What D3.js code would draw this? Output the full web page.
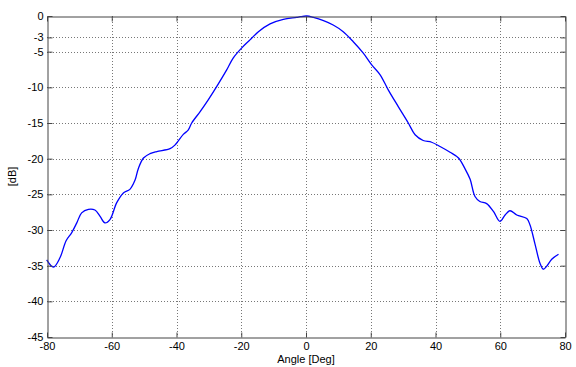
<!DOCTYPE html>
<html lang="en">
<head>
<meta charset="UTF-8">
<title>Beam pattern</title>
<script src="https://cdn.jsdelivr.net/npm/d3@7/dist/d3.min.js"></script>
<style>
    body { margin: 0; background: #fff; }
    text { font-family: "Liberation Sans", Arial, sans-serif; font-size: 11px; fill: #000; }
</style>
</head>
<body>
<svg id="chart" width="576" height="367"></svg>
<script>
    // data
    let angles = [-80.1, -78.0, -76.0, -74.1, -72.4, -70.8, -69.3, -67.2, -65.2, -63.6, -62.1, -60.5,
        -58.5, -56.4, -54.4, -52.8, -51.8, -50.2, -48.2, -46.1, -42.0, -40.5, -37.9, -36.4, -35.3,
        -32.7, -30.2, -27.6, -24.5, -22.5, -19.9, -17.3, -14.7, -11.1, -7.0, -2.9, -1.8, 0.2, 2.3,
        5.4, 8.4, 11.5, 14.6, 17.7, 20.3, 22.9, 25.4, 28.5, 31.6, 33.7, 36.2, 38.8, 41.4, 44.5,
        47.1, 49.1, 50.7, 52.2, 53.7, 55.8, 57.9, 59.9, 61.5, 63.0, 65.1, 68.2, 69.2, 70.7, 72.3,
        73.3, 74.3, 75.9, 78.0];
    let gain = [-34.2, -35.2, -33.9, -31.5, -30.4, -29.0, -27.6, -27.1, -27.2, -28.1, -29.0, -28.5,
        -26.2, -24.8, -24.3, -23.0, -21.4, -19.9, -19.3, -19.0, -18.6, -18.1, -16.6, -16.0, -15.0,
        -13.4, -11.75, -9.9, -7.55, -5.9, -4.5, -3.35, -2.2, -1.1, -0.47, -0.2, -0.1, 0.0, -0.2,
        -0.65, -1.26, -2.2, -3.6, -5.2, -6.85, -8.25, -10.35, -12.7, -15.0, -16.65, -17.45, -17.7,
        -18.3, -19.1, -19.9, -21.4, -22.9, -25.3, -26.0, -26.3, -27.4, -28.8, -27.9, -27.3, -27.9,
        -28.4, -29.3, -31.9, -34.7, -35.5, -35.1, -34.1, -33.4];
    let xTicks = [-80, -60, -40, -20, 0, 20, 40, 60, 80];
    let yTicks = [0, -3, -5, -10, -15, -20, -25, -30, -35, -40, -45];

    let svg = d3.select('svg#chart');
    let box = {left: 47, right: 565, top: 16, bottom: 337};

    let xScale = d3.scaleLinear().domain([-80, 80]).range([box.left, box.right]);
    let yScale = d3.scaleLinear().domain([-45, 0]).range([box.bottom, box.top]);

    // grid
    let grid = svg.append('g').attr('stroke', '#777').attr('stroke-dasharray', '1,2').attr('stroke-width', 1);
    grid.selectAll('line.gx')
        .data(xTicks.slice(1, -1))
        .enter()
        .append('line')
        .attr('x1', function(d){return Math.round(xScale(d)) + 0.5;})
        .attr('x2', function(d){return Math.round(xScale(d)) + 0.5;})
        .attr('y1', box.top)
        .attr('y2', box.bottom);
    grid.selectAll('line.gy')
        .data(yTicks.slice(1, -1))
        .enter()
        .append('line')
        .attr('y1', function(d){return Math.round(yScale(d)) + 0.5;})
        .attr('y2', function(d){return Math.round(yScale(d)) + 0.5;})
        .attr('x1', box.left)
        .attr('x2', box.right);

    // the curve
    let line = d3.line()
        .x(function(d, i){return xScale(angles[i]);})
        .y(function(d){return yScale(d);})
        .curve(d3.curveCatmullRom);
    svg.append('path')
        .datum(gain)
        .attr('d', line)
        .attr('fill', 'none')
        .attr('stroke', '#0000ff')
        .attr('stroke-width', 1.3);

    // axes, ticks inside on all four sides
    let axisColor = '#444';
    let bottomAxis = svg.append('g')
        .attr('transform', 'translate(0,' + (box.bottom + 0.5) + ')')
        .call(d3.axisBottom(xScale).tickValues(xTicks).tickSizeInner(-5).tickSizeOuter(0).tickPadding(5));
    let topAxis = svg.append('g')
        .attr('transform', 'translate(0,' + (box.top + 0.5) + ')')
        .call(d3.axisTop(xScale).tickValues(xTicks).tickSizeInner(-5).tickSizeOuter(0).tickFormat(''));
    let leftAxis = svg.append('g')
        .attr('transform', 'translate(' + (box.left + 0.5) + ',0)')
        .call(d3.axisLeft(yScale).tickValues(yTicks).tickSizeInner(-5).tickSizeOuter(0).tickPadding(9));
    let rightAxis = svg.append('g')
        .attr('transform', 'translate(' + (box.right + 0.5) + ',0)')
        .call(d3.axisRight(yScale).tickValues(yTicks).tickSizeInner(-5).tickSizeOuter(0).tickFormat(''));

    svg.selectAll('.domain, .tick line').attr('stroke', axisColor);
    svg.selectAll('.tick text')
        .style('font-family', '"Liberation Sans", Arial, sans-serif')
        .style('font-size', '11px')
        .attr('fill', '#000');
    leftAxis.selectAll('.tick text')
        .attr('x', -4)
        .text(function(d){return d3.format('d')(d).replace('−', '-');});
    bottomAxis.selectAll('.tick text')
        .text(function(d){return d3.format('d')(d).replace('−', '-');});

    // labels
    svg.append('text')
        .attr('x', (box.left + box.right) / 2)
        .attr('y', 363)
        .attr('text-anchor', 'middle')
        .text('Angle [Deg]');
    svg.append('text')
        .attr('transform', 'translate(16,' + (box.top + box.bottom) / 2 + ') rotate(-90)')
        .attr('text-anchor', 'middle')
        .text('[dB]');
</script>
</body>
</html>
